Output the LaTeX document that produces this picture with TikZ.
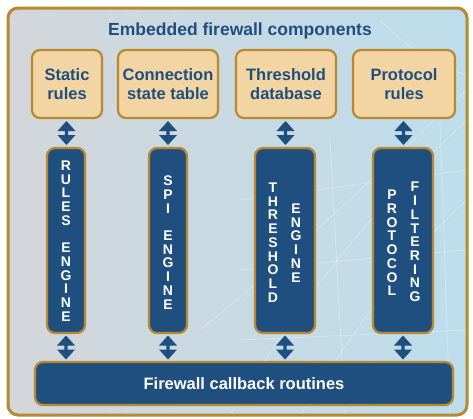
\documentclass[tikz,border=0pt]{standalone}
\usepackage{fontspec}
\setmainfont{Liberation Sans}
\usetikzlibrary{calc}
\definecolor{dblue}{HTML}{1F4F7E}
\definecolor{tanfill}{HTML}{F2D5A3}
\definecolor{goldline}{HTML}{B8892E}
\definecolor{bgleft}{HTML}{D3D6DA}
\definecolor{bgright}{HTML}{BCDDEC}
\tikzset{
 tanbox/.style={draw=goldline, line width=2.2pt, fill=tanfill, rounded corners=8pt, text=dblue,
   font=\bfseries\fontsize{16.5}{19}\selectfont, align=center, inner sep=0pt, minimum height=68pt},
 engbox/.style={draw=goldline, line width=2.2pt, fill=dblue, rounded corners=8pt, inner sep=0pt,
   minimum height=185pt},
 vcol/.style={text=white, font=\bfseries\fontsize{14}{13.7}\selectfont, align=center, inner sep=0pt},
 gridln/.style={white, opacity=0.3, line width=0.8pt},
}
\newcommand\udarr[1]{%
 \fill[dblue, shift={(#1)}] (0,-12) -- (9,-2) -- (1.6,-2) -- (1.6,2) -- (9,2) -- (0,12)
   -- (-9,2) -- (-1.6,2) -- (-1.6,-2) -- (-9,-2) -- cycle;}
\begin{document}
\begin{tikzpicture}[x=1pt,y=-1pt]
\useasboundingbox (0,0) rectangle (473,418);
\fill[white] (0,0) rectangle (473,418);
% background frame
\path[left color=bgleft, right color=bgright, rounded corners=10pt] (8,8) rectangle (467,415);
\begin{scope}
 \clip[rounded corners=10pt] (8,8) rectangle (467,415);
 \draw[gridln] (230,415) .. controls (300,300) and (380,200) .. (467,120);
 \draw[gridln] (300,415) .. controls (360,320) and (420,240) .. (467,200);
 \draw[gridln] (200,330) .. controls (300,250) and (380,170) .. (467,90);
 \draw[gridln] (240,200) -- (467,170);
 \draw[gridln] (240,270) -- (467,250);
 \draw[gridln] (240,340) -- (467,330);
 \draw[gridln] (330,140) -- (345,415);
 \draw[gridln] (440,120) -- (450,415);
 \draw[gridln] (380,20) .. controls (420,60) and (450,70) .. (467,75);
\end{scope}
\draw[goldline, line width=3pt, rounded corners=10pt] (8,8) rectangle (467,415);

% title
\node[text=dblue, font=\bfseries\fontsize{17.5}{20}\selectfont] (title) at (240,31) {Embedded firewall components};

% top boxes
\node[tanbox, minimum width=70pt] (static) at (67,84) {Static\\rules};
\node[tanbox, minimum width=100pt] (conn) at (168,84) {Connection\\state table};
\node[tanbox, minimum width=100pt] (thdb) at (286,84) {Threshold\\database};
\node[tanbox, minimum width=102pt] (prot) at (404,84) {Protocol\\rules};

% engines
\node[engbox, minimum width=38pt] (rules) at (66,240.5) {};
\node[engbox, minimum width=38pt] (spi) at (168,240.5) {};
\node[engbox, minimum width=60pt] (theng) at (285,240.5) {};
\node[engbox, minimum width=60pt] (pfilt) at (403,240.5) {};

\node[vcol] (t1) at (66,241) {R\\U\\L\\E\\S\\[13.7pt]E\\N\\G\\I\\N\\E};
\node[vcol] (t2) at (168,242.5) {S\\P\\I\\[13.7pt]E\\N\\G\\I\\N\\E};
\node[vcol] (t3a) at (273,242.5) {T\\H\\R\\E\\S\\H\\O\\L\\D};
\node[vcol] (t3b) at (296,243) {E\\N\\G\\I\\N\\E};
\node[vcol] (t4a) at (392,243) {P\\R\\O\\T\\O\\C\\O\\L};
\node[vcol] (t4b) at (415,242) {F\\I\\L\\T\\E\\R\\I\\N\\G};

% bottom bar
\node[engbox, minimum width=418pt, minimum height=43pt, text=white,
  font=\bfseries\fontsize{16.5}{19}\selectfont] (bar) at (244,383.5) {Firewall callback routines};

% arrows
\coordinate (a1) at ($(static.south)!0.5!(rules.north)$);
\coordinate (a2) at ($(conn.south)!0.5!(spi.north)$);
\coordinate (a3) at ($(thdb.south)!0.5!(theng.north)$);
\coordinate (a4) at ($(prot.south)!0.5!(pfilt.north)$);
\coordinate (b1) at ($(rules.south)!0.5!(rules.south |- bar.north)$);
\coordinate (b2) at ($(spi.south)!0.5!(spi.south |- bar.north)$);
\coordinate (b3) at ($(theng.south)!0.5!(theng.south |- bar.north)$);
\coordinate (b4) at ($(pfilt.south)!0.5!(pfilt.south |- bar.north)$);
\udarr{a1}\udarr{a2}\udarr{a3}\udarr{a4}
\udarr{b1}\udarr{b2}\udarr{b3}\udarr{b4}
\end{tikzpicture}
\end{document}
